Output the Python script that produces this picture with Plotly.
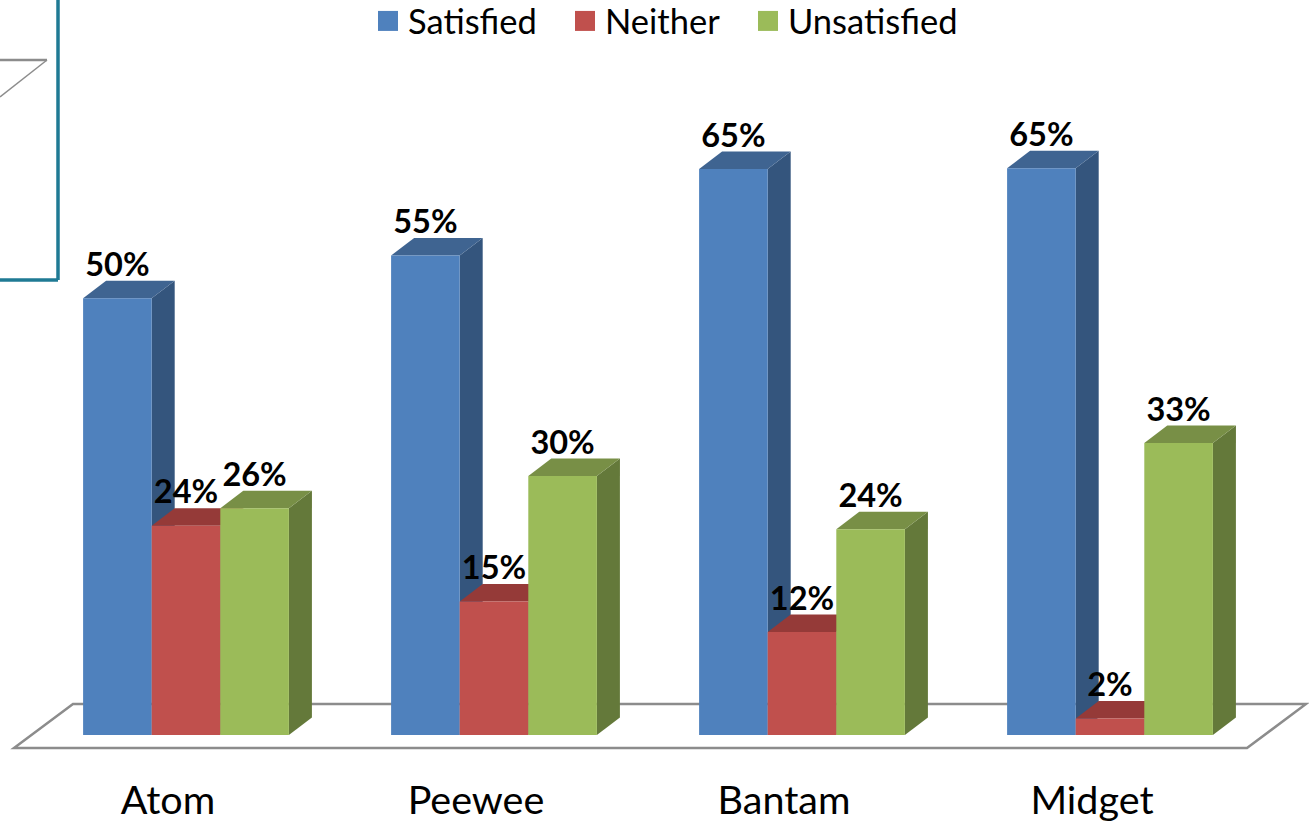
import plotly.graph_objects as go

categories = ["Atom", "Peewee", "Bantam", "Midget"]
series_names = ["Satisfied", "Neither", "Unsatisfied"]
satisfied = [50.1, 55.0, 64.9, 65.0]
neither = [24.0, 15.3, 11.8, 1.9]
unsatisfied = [26.0, 29.7, 23.6, 33.5]
front_colors = ["#4F81BD", "#C0504D", "#9BBB59"]
side_colors = ["#34557D", "#8A3533", "#64793A"]
top_colors = ["#3F6491", "#953A38", "#788F46"]
percent_labels = [["50%", "55%", "65%", "65%"], ["24%", "15%", "12%", "2%"], ["26%", "30%", "24%", "33%"]]

W, H = 1309, 822
BOTTOM_MARGIN = 52
GROUP_PX, BAR_PX = 308.0, 68.6
PX_PER_PCT = 8.72
X0_PX, Y0_PX = 186.0, 735.0
DEPTH_X = 23 / GROUP_PX
DEPTH_Y = 17.5 / PX_PER_PCT
BAR_W = BAR_PX / GROUP_PX
LABEL_GAP = 30.5 / PX_PER_PCT
TICK_SHIFT = 18 / GROUP_PX
LEGEND_SWATCH_PX = [388, 585, 768]

series = [satisfied, neither, unsatisfied]
x_idx = list(range(len(categories)))
FONT = "Lato, 'Open Sans', sans-serif"

fig = go.Figure()
shapes = []

fx = lambda px: (px - X0_PX) / GROUP_PX
fy = lambda px: (Y0_PX - px) / PX_PER_PCT
floor = [(14, 748), (73, 704), (1306, 704), (1247, 748)]
shapes.append(dict(
    type="path", xref="x", yref="y", layer="below",
    path="M " + " L ".join(f"{fx(a):.4f},{fy(b):.4f}" for a, b in floor) + " Z",
    fillcolor="white", line=dict(color="#8C8C8C", width=2.5),
))


def poly(points, color):
    return dict(
        type="path", xref="x", yref="y", layer="below",
        path="M " + " L ".join(f"{a:.4f},{b:.4f}" for a, b in points) + " Z",
        fillcolor=color, line=dict(width=0),
    )


legend_ids = ["legend", "legend2", "legend3"]
for j, (name, vals) in enumerate(zip(series_names, series)):
    centers = [i + (j - 1) * BAR_W for i in x_idx]
    for c, v in zip(centers, vals):
        l, r = c - BAR_W / 2, c + BAR_W / 2
        shapes.append(poly([(r, 0), (r + DEPTH_X, DEPTH_Y),
                            (r + DEPTH_X, v + DEPTH_Y), (r, v)], side_colors[j]))
        shapes.append(poly([(l, v), (l + DEPTH_X, v + DEPTH_Y),
                            (r + DEPTH_X, v + DEPTH_Y), (r, v)], top_colors[j]))
    fig.add_trace(go.Bar(
        x=x_idx, y=vals, name=name, marker=dict(color=front_colors[j], line=dict(width=0)),
        hoverinfo="name+y", legend=legend_ids[j],
    ))

for j, vals in enumerate(series):
    centers = [i + (j - 1) * BAR_W for i in x_idx]
    fig.add_trace(go.Scatter(
        x=centers, y=[v + LABEL_GAP for v in vals],
        mode="text", text=percent_labels[j], textposition="middle center",
        textfont=dict(family=FONT, size=32.5, color="black", weight="bold"),
        showlegend=False, hoverinfo="skip",
    ))

for x0, y0, x1, y1, col, w in [
    (58, 0, 58, 280, "#1F7A94", 3.5),
    (0, 280, 58, 280, "#1F7A94", 3.5),
    (0, 60, 47, 60, "#8C8C8C", 2.5),
    (47, 60, 0, 97, "#8C8C8C", 1.5),
]:
    shapes.append(dict(type="line", xref="paper", yref="paper", layer="above",
                       x0=x0 / W, x1=x1 / W,
                       y0=(H - BOTTOM_MARGIN - y0) / (H - BOTTOM_MARGIN),
                       y1=(H - BOTTOM_MARGIN - y1) / (H - BOTTOM_MARGIN),
                       line=dict(color=col, width=w)))

legend_common = dict(xanchor="left", y=1 + 8 / (H - BOTTOM_MARGIN), yanchor="top",
                     font=dict(size=34.5, family=FONT), bgcolor="rgba(0,0,0,0)",
                     itemclick=False, itemdoubleclick=False)
fig.update_layout(
    width=W, height=H,
    margin=dict(l=0, r=0, t=0, b=BOTTOM_MARGIN, pad=0, autoexpand=False),
    paper_bgcolor="white", plot_bgcolor="rgba(0,0,0,0)",
    barmode="group", bargap=1 - 3 * BAR_W, bargroupgap=0,
    shapes=shapes,
    font=dict(family=FONT, color="black"),
    showlegend=True,
    legend=dict(x=(LEGEND_SWATCH_PX[0] - 20) / W, **legend_common),
    legend2=dict(x=(LEGEND_SWATCH_PX[1] - 20) / W, **legend_common),
    legend3=dict(x=(LEGEND_SWATCH_PX[2] - 20) / W, **legend_common),
    xaxis=dict(
        range=[-X0_PX / GROUP_PX, (W - X0_PX) / GROUP_PX],
        tickmode="array", tickvals=[i - TICK_SHIFT for i in x_idx], ticktext=categories,
        tickfont=dict(size=39.5, family=FONT), ticks="", showgrid=False, zeroline=False,
        showline=False, ticklabelstandoff=3, fixedrange=True,
    ),
    yaxis=dict(
        range=[(Y0_PX - (H - BOTTOM_MARGIN)) / PX_PER_PCT, Y0_PX / PX_PER_PCT],
        visible=False, showgrid=False, zeroline=False, fixedrange=True,
    ),
)

post = """
document.body.style.margin='0';
var gd=document.getElementById('{plot_id}');
function bigSwatches(){
  gd.querySelectorAll('.legendpoints path').forEach(function(p){
    if(p.getAttribute('d')) p.setAttribute('d','M10,10H-10V-10H10Z');
  });
}
bigSwatches();
gd.on('plotly_afterplot',bigSwatches);
setTimeout(bigSwatches,50);
"""
fig.write_html("out.html", post_script=post, config=dict(displayModeBar=False))
